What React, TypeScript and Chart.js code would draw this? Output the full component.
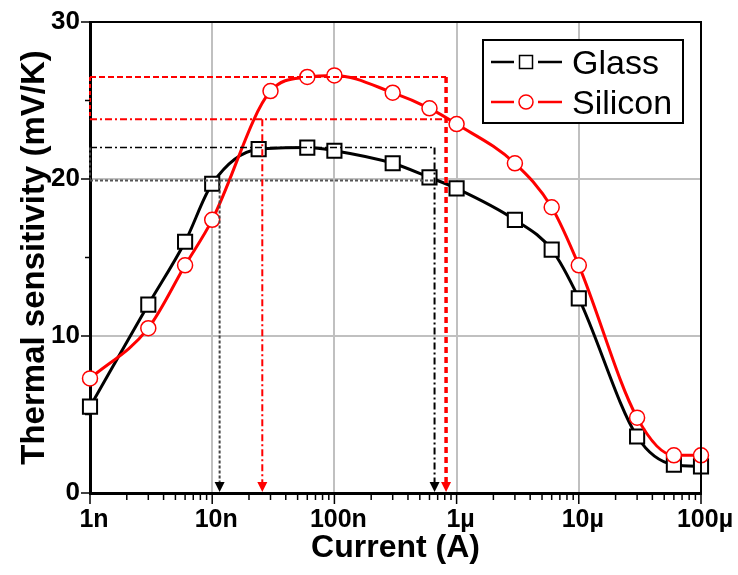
import React, { useEffect, useRef } from 'react';
import { Chart, registerables } from 'chart.js';

Chart.register(...registerables);

// ---- data ----
const glassCurrent = [1e-9, 3e-9, 6e-9, 1e-8, 2.4e-8, 6e-8, 1e-7, 3e-7, 6e-7, 1e-6, 3e-6, 6e-6, 1e-5, 3e-5, 6e-5, 1e-4];
const glassSensitivity = [5.5, 12.0, 16.0, 19.7, 21.9, 22.0, 21.8, 21.0, 20.1, 19.4, 17.4, 15.5, 12.4, 3.6, 1.8, 1.7];
const siliconCurrent = [1e-9, 3e-9, 6e-9, 1e-8, 3e-8, 6e-8, 1e-7, 3e-7, 6e-7, 1e-6, 3e-6, 6e-6, 1e-5, 3e-5, 6e-5, 1e-4];
const siliconSensitivity = [7.3, 10.5, 14.5, 17.4, 25.6, 26.5, 26.6, 25.5, 24.5, 23.5, 21.0, 18.2, 14.5, 4.8, 2.4, 2.4];

const xDecades = [1e-9, 1e-8, 1e-7, 1e-6, 1e-5, 1e-4];
const xTickLabels = ['1n', '10n', '100n', '1µ', '10µ', '100µ'];
const yTickLabels = [0, 10, 20, 30];

// reference levels: [upper, lower] sensitivity and [left, right] current
const glassLevels = [22.0, 19.9];
const glassCurrents = [11.5e-9, 660e-9];
const siliconLevels = [26.5, 23.8];
const siliconCurrents = [25.7e-9, 820e-9];

const seriesNames = ['Glass', 'Silicon'];

const FONT = '"Liberation Sans", Arial, sans-serif';
const RED = '#ff0000';

const isDecade = (v: number) => Math.abs(Math.log10(v) - Math.round(Math.log10(v))) < 1e-6;

const xTickValues: number[] = [];
for (let i = 0; i < xDecades.length; i++) {
  xTickValues.push(xDecades[i]);
  if (i < xDecades.length - 1) for (let m = 2; m <= 9; m++) xTickValues.push(xDecades[i] * m);
}

const decorPlugin = {
  id: 'decor',
  afterDatasetsDraw(chart: any) {
    const { ctx } = chart;
    const xs = chart.scales.x;
    const ys = chart.scales.y;
    const X = (v: number) => xs.getPixelForValue(v);
    const Y = (v: number) => ys.getPixelForValue(v);
    const x0 = X(xDecades[0]);
    const bottom = Y(0);
    const line = (pts: number[][], color: string, width: number, dash: number[]) => {
      ctx.save();
      ctx.strokeStyle = color;
      ctx.lineWidth = width;
      ctx.setLineDash(dash);
      ctx.beginPath();
      ctx.moveTo(pts[0][0], pts[0][1]);
      for (let i = 1; i < pts.length; i++) ctx.lineTo(pts[i][0], pts[i][1]);
      ctx.stroke();
      ctx.restore();
    };
    const arrow = (x: number, color: string) => {
      ctx.save();
      ctx.fillStyle = color;
      ctx.beginPath();
      ctx.moveTo(x - 5, bottom - 11);
      ctx.lineTo(x + 5, bottom - 11);
      ctx.lineTo(x, bottom - 1);
      ctx.closePath();
      ctx.fill();
      ctx.restore();
    };
    // glass
    const gT = Y(glassLevels[0]), gB = Y(glassLevels[1]);
    const gL = X(glassCurrents[0]), gR = X(glassCurrents[1]);
    line([[x0, gT], [gR, gT]], '#000', 1.5, [7, 3, 2, 3]);
    line([[gR, gT], [gR, bottom - 10]], '#000', 2, [7, 3, 2, 3]);
    line([[x0, gB], [gR, gB]], '#555', 2, [3, 2]);
    line([[x0, gT], [x0, gB]], '#444', 2, [3, 2]);
    line([[gL, gB], [gL, bottom - 10]], '#444', 2, [3, 2]);
    arrow(gR, '#000');
    arrow(gL, '#000');
    // silicon
    const sT = Y(siliconLevels[0]), sB = Y(siliconLevels[1]);
    const sL = X(siliconCurrents[0]), sR = X(siliconCurrents[1]);
    line([[x0, sT], [sR, sT]], RED, 2, [6, 3]);
    line([[x0, sB], [sR, sB]], RED, 2, [7, 3, 2, 3]);
    line([[x0, sT], [x0, sB]], RED, 2, [4, 3]);
    line([[sR, sT], [sR, bottom - 10]], RED, 3.5, [6, 4]);
    line([[sL, sB], [sL, bottom - 10]], RED, 2, [7, 3, 2, 3]);
    arrow(sR, RED);
    arrow(sL, RED);
  },
  afterDraw(chart: any) {
    const { ctx, chartArea } = chart;
    const xs = chart.scales.x;
    const ys = chart.scales.y;
    ctx.save();
    // frame top & right
    ctx.strokeStyle = '#000';
    ctx.lineWidth = 2;
    ctx.beginPath();
    ctx.moveTo(chartArea.left, chartArea.top);
    ctx.lineTo(chartArea.right, chartArea.top);
    ctx.lineTo(chartArea.right, chartArea.bottom);
    ctx.stroke();
    // x ticks
    ctx.lineWidth = 1.5;
    xs.ticks.forEach((t: any) => {
      const px = xs.getPixelForValue(t.value);
      const len = isDecade(t.value) ? 11 : 7;
      ctx.beginPath();
      ctx.moveTo(px, chartArea.bottom);
      ctx.lineTo(px, chartArea.bottom + len);
      ctx.stroke();
    });
    // y ticks
    ys.ticks.forEach((t: any) => {
      const py = ys.getPixelForValue(t.value);
      const len = t.value % 10 === 0 ? 9 : 5;
      ctx.beginPath();
      ctx.moveTo(chartArea.left, py);
      ctx.lineTo(chartArea.left - len, py);
      ctx.stroke();
    });
    // legend
    const bx = chartArea.right - 218, by = chartArea.top + 18, bw = 200, bh = 83;
    ctx.fillStyle = '#fff';
    ctx.fillRect(bx, by, bw, bh);
    ctx.lineWidth = 2;
    ctx.strokeStyle = '#000';
    ctx.strokeRect(bx, by, bw, bh);
    const rows = [by + 22, by + 62];
    seriesNames.forEach((name, i) => {
      const y = rows[i];
      const color = i === 0 ? '#000' : RED;
      ctx.strokeStyle = color;
      ctx.lineWidth = 2.5;
      ctx.beginPath();
      ctx.moveTo(bx + 8, y);
      ctx.lineTo(bx + 31, y);
      ctx.moveTo(bx + 55, y);
      ctx.lineTo(bx + 79, y);
      ctx.stroke();
      const cx = bx + 43;
      ctx.fillStyle = '#fff';
      if (i === 0) {
        ctx.lineWidth = 1.5;
        ctx.fillRect(cx - 6.5, y - 6.5, 13, 13);
        ctx.strokeRect(cx - 6.5, y - 6.5, 13, 13);
      } else {
        ctx.lineWidth = 1.5;
        ctx.beginPath();
        ctx.arc(cx, y, 7, 0, Math.PI * 2);
        ctx.fill();
        ctx.stroke();
      }
      ctx.fillStyle = '#000';
      ctx.font = `34px ${FONT}`;
      ctx.textBaseline = 'middle';
      ctx.textAlign = 'left';
      ctx.fillText(name, bx + 89, y + 3);
    });
    ctx.restore();
  },
};

export default function App() {
  const canvasRef = useRef<HTMLCanvasElement | null>(null);

  useEffect(() => {
    if (!canvasRef.current) return;
    const chart = new Chart(canvasRef.current, {
      type: 'line',
      data: {
        datasets: [
          {
            label: seriesNames[0],
            data: glassCurrent.map((x, i) => ({ x, y: glassSensitivity[i] })),
            borderColor: '#000',
            borderWidth: 3,
            pointStyle: 'rect',
            pointRadius: 10,
            pointBackgroundColor: '#fff',
            pointBorderColor: '#000',
            pointBorderWidth: 2,
            cubicInterpolationMode: 'monotone',
            clip: false,
            order: 1,
          },
          {
            label: seriesNames[1],
            data: siliconCurrent.map((x, i) => ({ x, y: siliconSensitivity[i] })),
            borderColor: RED,
            borderWidth: 3,
            pointStyle: 'circle',
            pointRadius: 7.5,
            pointBackgroundColor: '#fff',
            pointBorderColor: RED,
            pointBorderWidth: 1.5,
            cubicInterpolationMode: 'monotone',
            clip: false,
            order: 0,
          },
        ],
      } as any,
      options: {
        animation: false,
        responsive: false,
        devicePixelRatio: 1,
        layout: { padding: { top: 22, right: 37, left: 0, bottom: 0 } },
        plugins: { legend: { display: false }, tooltip: { enabled: false } },
        scales: {
          x: {
            type: 'logarithmic',
            min: xDecades[0],
            max: xDecades[xDecades.length - 1],
            afterBuildTicks: (s: any) => {
              s.ticks = xTickValues.map((v) => ({ value: v }));
            },
            afterFit: (s: any) => {
              s.height = 82;
              s.paddingLeft = 0;
              s.paddingRight = 0;
            },
            ticks: {
              autoSkip: false,
              maxRotation: 0,
              minRotation: 0,
              padding: 12,
              labelOffset: 4,
              color: '#000',
              font: { family: FONT, size: 25, weight: 'bold' },
              callback: (v: any) => {
                const n = Number(v);
                if (!isDecade(n)) return '';
                return xTickLabels[Math.round(Math.log10(n)) + 9];
              },
            },
            grid: {
              drawTicks: false,
              lineWidth: 2,
              color: (c: any) => {
                const v = c.tick && c.tick.value;
                if (!v || !isDecade(v) || v === xDecades[0] || v === xDecades[xDecades.length - 1]) return 'transparent';
                return '#c0c0c0';
              },
            },
            border: { display: true, color: '#000', width: 3 },
            title: {
              display: true,
              text: 'Current (A)',
              color: '#000',
              font: { family: FONT, size: 32, weight: 'bold' },
              padding: { top: 0, bottom: 8 },
            },
          },
          y: {
            min: 0,
            max: 30,
            afterFit: (s: any) => {
              s.width = 90;
              s.paddingTop = 0;
              s.paddingBottom = 0;
            },
            ticks: {
              stepSize: 5,
              padding: 10,
              color: '#000',
              font: { family: FONT, size: 26, weight: 'bold' },
              callback: (v: any) => (yTickLabels.includes(Number(v)) ? String(v) : ''),
            },
            grid: {
              drawTicks: false,
              lineWidth: 2,
              color: (c: any) => {
                const v = c.tick && c.tick.value;
                return v === 10 || v === 20 ? '#c0c0c0' : 'transparent';
              },
            },
            border: { display: true, color: '#000', width: 3 },
            title: {
              display: true,
              text: 'Thermal sensitivity (mV/K)',
              color: '#000',
              font: { family: FONT, size: 33, weight: 'bold' },
              padding: { top: 15, bottom: 0 },
            },
          },
        },
      } as any,
      plugins: [decorPlugin],
    });
    return () => chart.destroy();
  }, []);

  return (
    <div style={{ position: 'absolute', left: 0, top: 0, width: 738, height: 575, background: '#fff' }}>
      <canvas ref={canvasRef} width={738} height={575} style={{ display: 'block' }} />
    </div>
  );
}
